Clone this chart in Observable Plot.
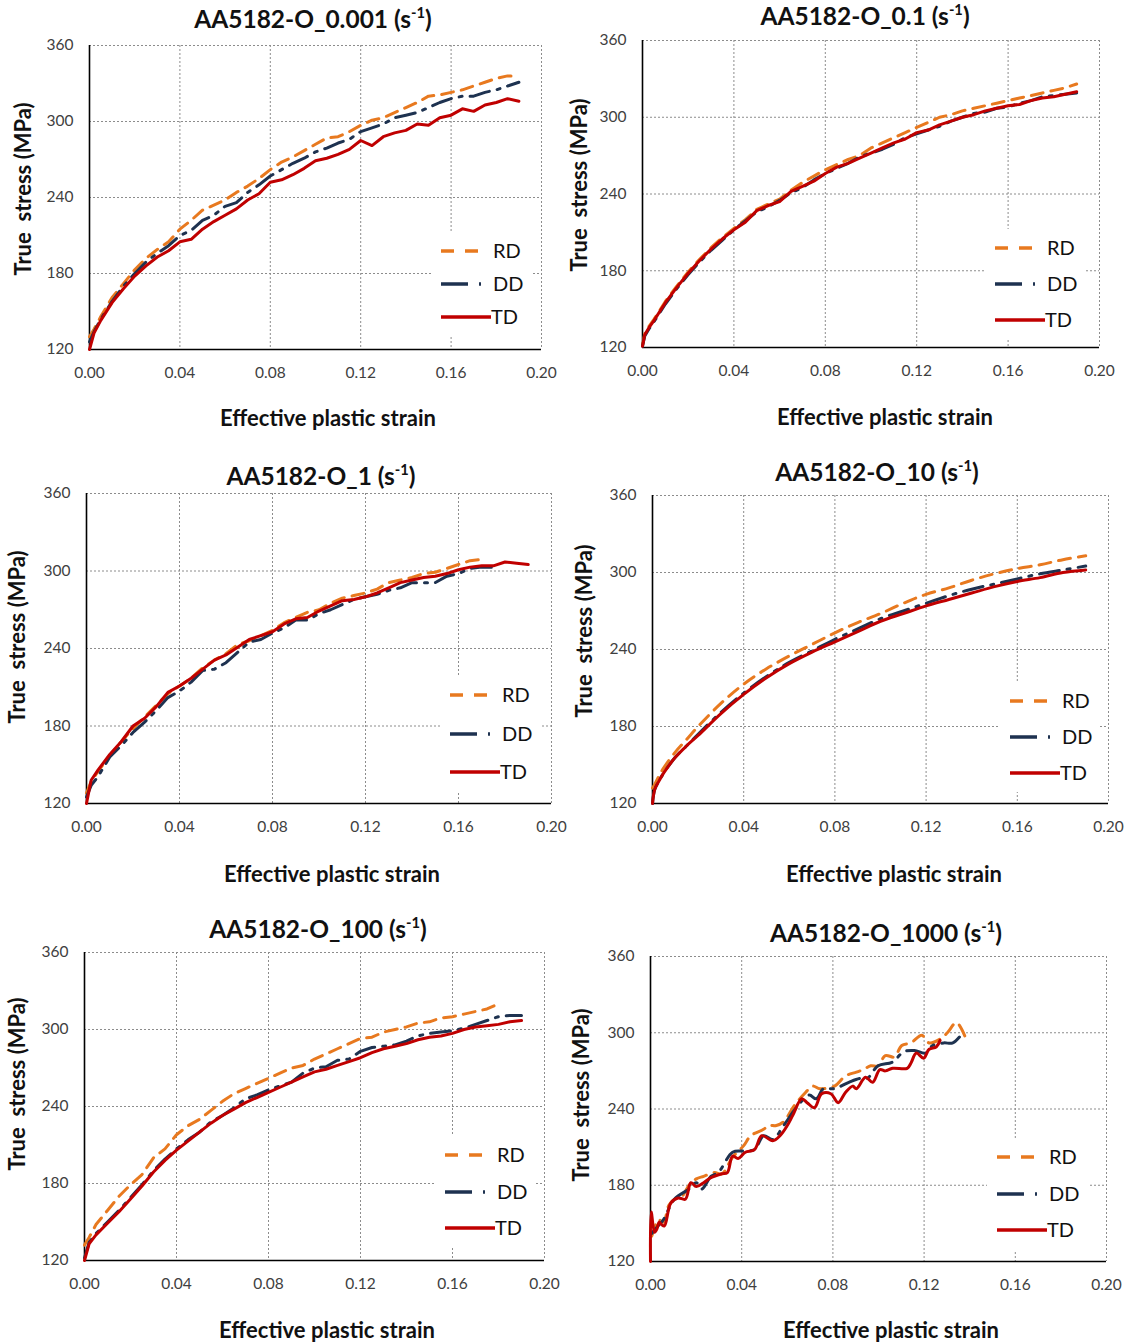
<!DOCTYPE html>
<html><head><meta charset="utf-8">
<script src="https://cdn.jsdelivr.net/npm/d3@7"></script>
<script src="https://cdn.jsdelivr.net/npm/@observablehq/plot@0.6"></script>
<style>
body{margin:0;background:#fff;width:1134px;height:1343px;position:relative;overflow:hidden;font-family:Lato,"Open Sans",sans-serif;}
.abs{position:absolute;transform:translate(-50%,-50%);white-space:pre;color:#111;}
.title{font-weight:700;font-size:24.5px;}
.title sup{font-size:0.6em;vertical-align:0.65em;line-height:0;}
.xl{font-weight:700;font-size:22px;}
.yl{font-weight:700;font-size:22px;transform:translate(-50%,-50%) rotate(-90deg);}
.panel{position:absolute;}
</style></head><body>
<script>
// ---------- data ----------
const xTicks = [0, 0.04, 0.08, 0.12, 0.16, 0.2];
const yTicks = [120, 180, 240, 300, 360];
const directions = ["RD", "DD", "TD"];
const rates = ["0.001", "0.1", "1", "10", "100", "1000"];

// shared strain grid (panels 0.001, 1, 100)
const strainA = [0,0.002,0.005,0.01,0.015,0.02,0.025,0.03,0.035,0.04,0.045,0.05,0.055,0.06,0.065,0.07,0.075,0.08,0.085,0.09,0.095,0.1,0.105,0.11,0.115,0.12,0.125,0.13,0.135,0.14,0.145,0.15,0.155,0.16,0.165,0.17,0.175,0.18,0.185,0.19];
// strain grid (panel 0.1)
const strainB = [0,0.001,0.003,0.005,0.01,0.015,0.02,0.025,0.03,0.035,0.04,0.045,0.05,0.055,0.06,0.065,0.07,0.075,0.08,0.085,0.09,0.095,0.1,0.105,0.11,0.115,0.12,0.125,0.13,0.135,0.14,0.145,0.15,0.155,0.16,0.165,0.17,0.175,0.18,0.185,0.19];
// strain grid (panel 10)
const strainC = [0,0.001,0.003,0.005,0.01,0.015,0.02,0.03,0.04,0.05,0.06,0.07,0.08,0.09,0.1,0.11,0.12,0.13,0.14,0.15,0.16,0.17,0.18,0.19];

// AA5182-O 0.001 /s
const p1RD = [130,136,146,161,172,183,192,199,205,215,222,230,234,238,244,249,255,262,268,272,277,282,287,288,292,297,301,303,307,311,315,320,321,323,325,328,331,334,336,336];
const p1DD = [126,134,144,158,170,180,189,196,202,210,214,222,226,233,236,244,250,257,262,267,271,276,279,283,286,292,295,298,303,305,307,311,315,318,320,320,323,325,328,331];
const p1TD = [120,133,143,157,168,178,186,193,198,205,207,215,221,226,231,238,243,252,254,258,263,269,271,274,278,285,281,288,291,293,298,297,303,305,310,308,313,315,318,316];

// AA5182-O 0.1 /s
const p2RD = [122,131,137,142,156,168,179,189,198,206,213,220,228,232,236,243,249,254,259,263,267,270,276,280,284,288,292,296,300,302,305,307,309,311,313,315,317,319,321,323,326];
const p2DD = [121,129,135,140,154,166,177,187,196,204,212,219,226,230,235,241,245,251,256,260,264,269,272,275,279,284,287,290,293,297,300,303,304,307,308,311,313,316,317,318,319];
const p2TD = [121,130,136,141,155,167,178,188,197,205,212,218,227,231,234,242,246,250,256,261,264,268,272,276,280,283,288,290,294,297,300,302,305,307,309,310,313,315,316,318,320];

// AA5182-O 1 /s
const p3RD = [128,137,145,157,168,178,187,196,205,211,217,225,231,236,243,246,250,254,260,264,268,270,275,279,281,283,286,291,293,295,298,299,302,305,308,309];
const p3DD = [125,134,141,156,165,175,183,192,202,207,214,223,224,229,237,245,247,252,256,262,262,267,270,274,278,280,282,285,287,291,291,291,296,298,302,303,303];
const p3TD = [120,138,146,158,168,180,186,195,206,211,217,224,231,235,241,247,250,253,259,263,264,269,273,277,278,280,283,287,291,293,295,296,298,301,303,304,304,307,306,305];

// AA5182-O 10 /s
const p4RD = [132,135,142,148,160,170,180,198,213,225,235,244,253,261,268,276,283,288,294,299,303,306,310,313];
const p4DD = [120,131,138,144,156,165,174,191,206,219,230,239,248,256,264,270,276,282,287,291,295,299,302,305];
const p4TD = [120,131,138,144,156,165,173,190,205,218,229,238,246,254,262,268,274,279,284,289,293,296,300,302];

// AA5182-O 100 /s
const p5RD = [132,138,148,159,170,179,187,200,207,218,225,230,237,244,250,254,258,262,266,270,272,277,281,285,289,293,294,298,300,302,305,306,309,310,312,314,316,320];
const p5DD = [122,134,141,150,159,169,179,190,199,207,214,220,228,233,239,246,249,253,256,259,266,270,271,276,277,283,286,287,288,291,295,297,298,299,301,304,307,310,311,311];
const p5TD = [120,133,140,149,158,168,178,189,198,206,213,220,227,233,238,243,247,251,255,259,263,267,269,272,275,278,282,285,287,289,292,294,295,297,300,302,303,304,306,307];

// AA5182-O 1000 /s (own strain samples per direction)
const p6RDx = [0.0005,0.0018,0.0033,0.0057,0.008,0.0105,0.0137,0.0169,0.0201,0.0233,0.028,0.0313,0.036,0.0408,0.044,0.0496,0.052,0.0552,0.0584,0.0632,0.068,0.0711,0.0743,0.0807,0.0855,0.0903,0.0934,0.0966,0.0998,0.103,0.107,0.1102,0.1142,0.119,0.1222,0.127,0.1302,0.1342,0.1382];
const p6RD  = [140,146,153,151,164,169,171,180,185,187,190,189,202,211,219,224,227,227,230,243,253,258,256,258,266,269,271,274,274,282,281,290,292,298,292,295,300,308,296];
const p6DDx = [0.0005,0.0033,0.0057,0.0105,0.0169,0.0201,0.0225,0.0265,0.0297,0.036,0.0408,0.0456,0.0496,0.0536,0.0584,0.0648,0.0696,0.0727,0.0759,0.0807,0.087,0.0918,0.095,0.0998,0.1062,0.111,0.1158,0.1206,0.1238,0.1286,0.1326,0.1366];
const p6DD  = [142,148,153,169,177,182,177,187,190,206,207,208,219,216,227,243,251,248,256,256,261,264,264,274,277,285,286,284,290,292,292,299];
const p6TDx = [0,0.0003,0.0018,0.0029,0.0038,0.0049,0.0061,0.0089,0.0121,0.0153,0.0177,0.0201,0.0233,0.0265,0.0313,0.0337,0.036,0.0384,0.0416,0.0456,0.0488,0.0536,0.0568,0.06,0.0624,0.0663,0.0687,0.0719,0.0751,0.0791,0.0823,0.0855,0.0887,0.0903,0.0943,0.0974,0.1006,0.103,0.1062,0.1126,0.1142,0.1166,0.1198,0.1222,0.1254,0.127];
const p6TD  = [120,159,143,146,151,149,148,166,170,169,182,179,182,186,189,190,203,201,206,208,219,215,219,227,235,248,245,241,252,252,245,253,258,256,265,261,271,270,272,272,276,284,280,287,289,294];

// ---------- styling / layout ----------
const colors = {RD: "#E8791F", DD: "#1E3250", TD: "#C00000"};
const dashes = {RD: "12,8", DD: "20,8,3,8", TD: null};

const panels = [
  {rate: rates[0], frame: [89, 541, 45, 349], curve: "linear",
   series: {RD: [strainA, p1RD], DD: [strainA, p1DD], TD: [strainA, p1TD]},
   title: [313, 18], ylab: [22, 189], xlab: [328, 417],
   legend: {lx: 441, rows: [251, 284, 317], box: [432, 232, 533, 336]}},
  {rate: rates[1], frame: [642, 1099, 40, 347], curve: "linear",
   series: {RD: [strainB, p2RD], DD: [strainB, p2DD], TD: [strainB, p2TD]},
   title: [865, 15], ylab: [578, 185], xlab: [885, 416],
   legend: {lx: 995, rows: [248, 284, 320], box: [985, 229, 1086, 338]}},
  {rate: rates[2], frame: [86, 551, 493, 803], curve: "linear",
   series: {RD: [strainA, p3RD], DD: [strainA, p3DD], TD: [strainA, p3TD]},
   title: [321, 475], ylab: [16, 637], xlab: [332, 873],
   legend: {lx: 450, rows: [695, 734, 772], box: [441, 675, 542, 792]}},
  {rate: rates[3], frame: [652, 1108, 495, 803], curve: "catmull-rom",
   series: {RD: [strainC, p4RD], DD: [strainC, p4DD], TD: [strainC, p4TD]},
   title: [877, 471], ylab: [583, 631], xlab: [894, 873],
   legend: {lx: 1010, rows: [701, 737, 773], box: [1000, 682, 1099, 792]}},
  {rate: rates[4], frame: [84, 544, 952, 1260], curve: "linear",
   series: {RD: [strainA, p5RD], DD: [strainA, p5DD], TD: [strainA, p5TD]},
   title: [318, 928], ylab: [16, 1084], xlab: [327, 1329],
   legend: {lx: 445, rows: [1155, 1192, 1228], box: [436, 1136, 536, 1247]}},
  {rate: rates[5], frame: [650, 1106, 956, 1261], curve: "catmull-rom",
   series: {RD: [p6RDx, p6RD], DD: [p6DDx, p6DD], TD: [p6TDx, p6TD]},
   title: [886, 932], ylab: [580, 1095], xlab: [891, 1329],
   legend: {lx: 997, rows: [1157, 1194, 1230], box: [987, 1138, 1088, 1250]}}
];

const ML = 60, MR = 25, MT = 12, MB = 40;

function addText(cls, x, y, html) {
  const d = document.createElement("div");
  d.className = "abs " + cls;
  d.style.left = x + "px";
  d.style.top = y + "px";
  d.innerHTML = html;
  document.body.appendChild(d);
}

function legendMark(L, sx, sy) {
  return () => {
    const g = d3.create("svg:g");
    const [bl, bt, br, bb] = L.box;
    g.append("rect").attr("x", bl - sx).attr("y", bt - sy)
      .attr("width", br - bl).attr("height", bb - bt).attr("fill", "#fff");
    const specs = [
      {name: "RD", len: 38, dash: "13,11", tx: 52},
      {name: "DD", len: 42, dash: "27,11,2,40", tx: 52},
      {name: "TD", len: 50, dash: null, tx: 50}
    ];
    specs.forEach((s, i) => {
      const y = L.rows[i] - sy;
      const x = L.lx - sx;
      const ln = g.append("line").attr("x1", x).attr("x2", x + s.len)
        .attr("y1", y).attr("y2", y)
        .attr("stroke", colors[s.name]).attr("stroke-width", 3.5);
      if (s.dash) ln.attr("stroke-dasharray", s.dash);
      g.append("text").attr("x", x + s.tx).attr("y", y)
        .attr("dy", "0.36em").attr("font-size", 20).attr("fill", "#111")
        .attr("text-anchor", "start")
        .attr("font-family", "Lato, 'Open Sans', sans-serif")
        .text(s.name);
    });
    return g.node();
  };
}

panels.forEach(p => {
  const [x0, x1, y0, y1] = p.frame;
  const sx = x0 - ML, sy = y0 - MT;
  const width = x1 - x0 + ML + MR;
  const height = y1 - y0 + MT + MB;

  const lines = directions.map(dir => {
    const [xs, ys] = p.series[dir];
    const rows = ys.map((v, i) => ({strain: xs[i], stress: v}));
    return Plot.line(rows, {
      x: "strain", y: "stress", stroke: colors[dir], strokeWidth: 3,
      strokeDasharray: dashes[dir], curve: p.curve, strokeLinejoin: "round"
    });
  });

  const chart = Plot.plot({
    width, height,
    marginLeft: ML, marginRight: MR, marginTop: MT, marginBottom: MB,
    style: {fontFamily: "Lato, 'Open Sans', sans-serif", fontSize: "15.5px", color: "#404040", background: "transparent", overflow: "visible"},
    x: {domain: [0, 0.2], ticks: xTicks, tickFormat: d => d.toFixed(2), tickSize: 0, tickPadding: 17, label: null},
    y: {domain: [120, 360], ticks: yTicks, tickSize: 0, tickPadding: 16, label: null},
    marks: [
      Plot.ruleX(xTicks.slice(1), {stroke: "#8c8c8c", strokeWidth: 1, strokeDasharray: "2,2"}),
      Plot.ruleY(yTicks.slice(1), {stroke: "#8c8c8c", strokeWidth: 1, strokeDasharray: "2,2"}),
      legendMark(p.legend, sx, sy),
      Plot.ruleX([0], {stroke: "#000", strokeWidth: 1.6}),
      Plot.ruleY([120], {stroke: "#000", strokeWidth: 1.6}),
      ...lines
    ]
  });

  const wrap = document.createElement("div");
  wrap.className = "panel";
  wrap.style.left = sx + "px";
  wrap.style.top = sy + "px";
  wrap.appendChild(chart);
  document.body.appendChild(wrap);

  addText("title", p.title[0], p.title[1], "AA5182-O_" + p.rate + " (s<sup>-1</sup>)");
  addText("yl", p.ylab[0], p.ylab[1], "True  stress (MPa)");
  addText("xl", p.xlab[0], p.xlab[1], "Effective plastic strain");
});
</script>
</body></html>
